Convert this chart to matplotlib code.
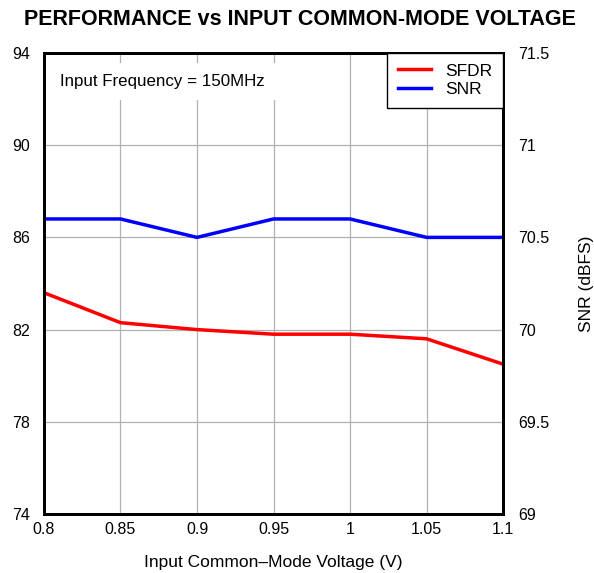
import matplotlib.pyplot as plt

plt.rcParams['font.family'] = ['Liberation Sans', 'DejaVu Sans']

vcm = [0.8, 0.85, 0.9, 0.95, 1.0, 1.05, 1.1]
sfdr = [83.6, 82.3, 82.0, 81.8, 81.8, 81.6, 80.5]
snr = [70.6, 70.6, 70.5, 70.6, 70.6, 70.5, 70.5]
xticks = [0.8, 0.85, 0.9, 0.95, 1.0, 1.05, 1.1]
xtick_labels = ['0.8', '0.85', '0.9', '0.95', '1', '1.05', '1.1']

fig = plt.figure(figsize=(5.94, 5.73), dpi=100)
ax = fig.add_axes([0.074, 0.103, 0.773, 0.8045])
ax2 = ax.twinx()

l1, = ax.plot(vcm, sfdr, color='#ff0000', lw=2.5, label='SFDR')
l2, = ax2.plot(vcm, snr, color='#0000ff', lw=2.5, label='SNR')

ax.set_xlim(0.8, 1.1)
ax.set_ylim(74, 94)
ax.set_yticks([74, 78, 82, 86, 90, 94])
ax.set_xticks(xticks)
ax.set_xticklabels(xtick_labels)
ax2.set_ylim(69, 71.5)
ax2.set_yticks([69, 69.5, 70, 70.5, 71, 71.5])
ax2.set_yticklabels(['69', '69.5', '70', '70.5', '71', '71.5'])

ax.grid(True, color='#b0b0b0', lw=0.9)
ax.set_axisbelow(True)
ax.tick_params(axis='x', length=0, labelsize=11.5, pad=6)
ax.tick_params(axis='y', length=0, labelsize=11.5, pad=10)
ax2.tick_params(length=0, labelsize=11.5, pad=11)

for a in (ax, ax2):
    for s in a.spines.values():
        s.set_linewidth(2)

ax.set_xlabel('Input Common\u2013Mode Voltage (V)', fontsize=12.5, labelpad=13)
ax2.set_ylabel('SNR (dBFS)', fontsize=12.5, labelpad=21)
fig.text(0.505, 0.966, 'PERFORMANCE vs INPUT COMMON-MODE VOLTAGE', fontsize=15.5,
         fontweight='bold', ha='center', va='center')

ax2.text(0.035, 0.955, 'Input Frequency = 150MHz', transform=ax.transAxes,
         fontsize=12.2, va='top', ha='left',
         bbox=dict(facecolor='white', edgecolor='none', pad=8))

leg = ax2.legend(handles=[l1, l2], loc='upper right', fontsize=12.5,
                 fancybox=False, framealpha=1, edgecolor='black',
                 borderaxespad=0, handlelength=1.9, labelspacing=0.2,
                 borderpad=0.6, handletextpad=0.85)
leg.get_frame().set_linewidth(1)

fig.savefig('out.png', dpi=100)
